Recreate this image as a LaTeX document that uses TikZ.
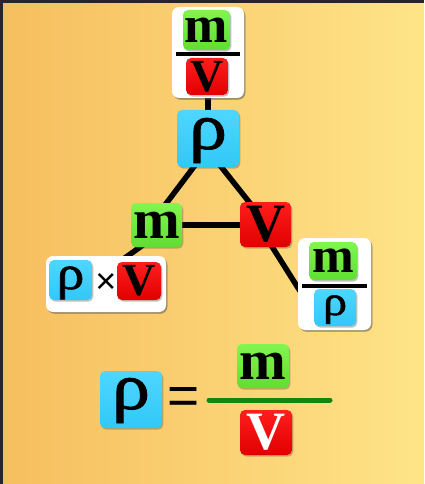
\documentclass[tikz,border=0pt]{standalone}
\usepackage{fontspec}
\setmainfont{Liberation Serif}
\newfontfamily\sansf{Liberation Sans}
\newfontfamily\rhofont[FakeBold=1.2]{Liberation Serif}
\usetikzlibrary{shadows,calc}
\definecolor{tblueA}{RGB}{78,214,255}
\definecolor{tblueB}{RGB}{50,200,248}
\definecolor{tgreenA}{RGB}{130,245,80}
\definecolor{tgreenB}{RGB}{96,222,50}
\definecolor{tredA}{RGB}{255,30,30}
\definecolor{tredB}{RGB}{225,0,0}
\definecolor{bgA}{RGB}{246,190,94}
\definecolor{bgB}{RGB}{254,228,136}
\definecolor{fracgreen}{RGB}{16,135,16}
\pgfdeclarelayer{bg}
\pgfdeclarelayer{lines}
\pgfsetlayers{bg,lines,main}
\newcommand{\widerho}{\scalebox{1.15}[1]{ρ}}
\begin{document}
\begin{tikzpicture}[x=1pt,y=-1pt,
  tile/.style={draw=none, rounded corners=5pt, inner sep=0pt, outer sep=0pt,
    drop shadow={shadow xshift=1.3pt,shadow yshift=-1.6pt,opacity=0.35,fill=black!70}},
  bluetile/.style={tile, top color=tblueA, bottom color=tblueB},
  greentile/.style={tile, top color=tgreenA, bottom color=tgreenB},
  redtile/.style={tile, top color=tredA, bottom color=tredB},
  whitebox/.style={tile, fill=white, rounded corners=7pt,
    drop shadow={shadow xshift=1.5pt,shadow yshift=-1.8pt,opacity=0.3,fill=black!60}},
  conn/.style={line width=5.5pt, black},
  fracline/.style={line width=4pt, black},
  bfs/.style={font=\fontsize{#1}{#1}\selectfont\bfseries},
  rhotext/.style={font=\fontsize{#1}{#1}\selectfont\rhofont, inner sep=0pt, anchor=base},
]
\useasboundingbox (0,0) rectangle (424,484);
\begin{pgfonlayer}{bg}
  \fill[left color=bgA, right color=bgB] (0,0) rectangle (424,484);
  \draw[line width=3pt, black!85] (1.5,484) -- (1.5,1.5) -- (424,1.5);
\end{pgfonlayer}

% top box m/V
\node[whitebox, minimum width=72pt, minimum height=91pt] (topbox) at (208,52.5) {};
\node[greentile, minimum width=47pt, minimum height=40pt, bfs=52] (topm) at (206.5,30) {m};
\coordinate (tl1) at (176,54);
\coordinate (tl2) at (240,54);
\draw[fracline] (tl1) -- (tl2);
\node[redtile, minimum width=42pt, minimum height=37pt, bfs=46] (topV) at (207,76.5) {V};

% triangle
\node[bluetile, minimum width=62pt, minimum height=57pt] (rho) at (208,138.5) {};
\node[rhotext=66] (rhot) at (208,149) {\widerho};
\node[greentile, minimum width=51pt, minimum height=44pt, bfs=56] (m) at (156.5,225) {m};
\node[redtile, minimum width=51pt, minimum height=45pt, bfs=54] (V) at (265.5,224.5) {V};

% left box rho x V
\node[whitebox, minimum width=120pt, minimum height=56pt] (leftbox) at (106,284) {};
\node[bluetile, minimum width=43pt, minimum height=40pt] (lrho) at (70.5,280) {};
\node[rhotext=48] (lrhot) at (70.5,289) {\widerho};
\node[font=\fontsize{36}{36}\selectfont\sansf, inner sep=0pt] (times) at (106,283) {×};
\node[redtile, minimum width=44pt, minimum height=38pt, bfs=46] (lV) at (139,281) {V};

% right box m/rho
\node[whitebox, minimum width=73pt, minimum height=92pt] (rightbox) at (334.5,284) {};
\node[greentile, minimum width=48pt, minimum height=38pt, bfs=50] (rm) at (333,261) {m};
\coordinate (rl1) at (302,286);
\coordinate (rl2) at (367,286);
\draw[fracline] (rl1) -- (rl2);
\node[bluetile, minimum width=42pt, minimum height=37pt] (rrho) at (335,307.5) {};
\node[rhotext=42] (rrhot) at (335,315) {\widerho};

% connectors
\begin{pgfonlayer}{lines}
  \draw[conn] (topbox.south) -- (rho.north);
  \draw[conn] ($(rho.south)+(-12.6,-2.2)$) -- ($(m.north)+(6.1,5.2)$);
  \draw[conn] ($(rho.south)+(11.6,-2.1)$) -- ($(V.north)+(-13.1,4.1)$);
  \draw[conn] (m.east) -- (m.east -| V.west);
  \draw[conn] ($(m.south)+(-13.5,-2)$) -- ($(leftbox.north)+(16,4)$);
  \draw[conn] ($(V.south)+(5.5,-2)$) -- ($(rightbox.west)+(2,7)$);
\end{pgfonlayer}

% equation
\node[bluetile, minimum width=62pt, minimum height=57pt] (brho) at (131,399.5) {};
\node[rhotext=66] (brhot) at (131,409) {\widerho};
\node[font=\fontsize{55}{55}\selectfont\sansf, inner sep=0pt] (eq) at (184,401) {=};
\coordinate (g1) at (209,400);
\coordinate (g2) at (330,400);
\draw[line width=5pt, fracgreen, line cap=round] (g1) -- (g2);
\node[greentile, minimum width=52pt, minimum height=44pt, bfs=56] (bm) at (263,366) {m};
\node[redtile, minimum width=52pt, minimum height=45pt, bfs=54, text=white] (bV) at (266,432.5) {V};
\end{tikzpicture}
\end{document}
